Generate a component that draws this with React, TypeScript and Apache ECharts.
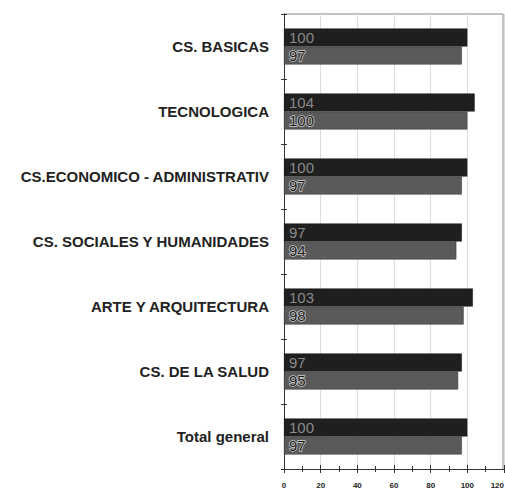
import React, { useEffect, useRef } from "react";
import * as echarts from "echarts";

const categories = [
  "CS. BASICAS",
  "TECNOLOGICA",
  "CS.ECONOMICO - ADMINISTRATIV",
  "CS. SOCIALES Y HUMANIDADES",
  "ARTE Y ARQUITECTURA",
  "CS. DE LA SALUD",
  "Total general",
];
const seriesDark = [100, 104, 100, 97, 103, 97, 100];
const seriesLight = [97, 100, 97, 94, 98, 95, 97];
const xTicks = [0, 20, 40, 60, 80, 100, 120];

const font = "Liberation Sans, Arial, sans-serif";

export default function App() {
  const ref = useRef<HTMLDivElement>(null);
  useEffect(() => {
    if (!ref.current) return;
    const chart = echarts.init(ref.current, null, { renderer: "svg" });
    const xBase = {
      type: "value",
      min: xTicks[0],
      max: xTicks[xTicks.length - 1],
      interval: 20,
    };
    chart.setOption({
      animation: false,
      backgroundColor: "#ffffff",
      grid: {
        left: 284,
        right: 1,
        top: 14,
        bottom: 21,
        containLabel: false,
        outerBoundsMode: "none",
      },
      xAxis: [
        {
          ...xBase,
          axisLine: { show: true, lineStyle: { color: "#333", width: 1 } },
          axisTick: { show: true, length: 4, inside: false, lineStyle: { color: "#333" } },
          minorTick: { show: true, splitNumber: 2, length: 3, lineStyle: { color: "#333" } },
          splitLine: { show: true, lineStyle: { color: "#dcdcdc", width: 1 } },
          axisLabel: {
            fontSize: 8,
            fontWeight: "bold",
            color: "#222",
            fontFamily: font,
            margin: 12,
            alignMaxLabel: "right",
          },
        },
        {
          ...xBase,
          position: "bottom",
          axisLine: { show: false },
          axisTick: { show: true, length: 4, inside: true, lineStyle: { color: "#333" } },
          minorTick: { show: true, splitNumber: 2, length: 3, lineStyle: { color: "#333" } },
          splitLine: { show: false },
          axisLabel: { show: false },
        },
      ],
      yAxis: [
        {
          type: "category",
          data: categories,
          inverse: true,
          axisLine: { show: true, lineStyle: { color: "#333", width: 1 } },
          axisTick: { show: true, length: 3, lineStyle: { color: "#333" } },
          axisLabel: {
            fontSize: 15,
            fontWeight: "bold",
            color: "#222",
            fontFamily: font,
            margin: 15,
          },
        },
        {
          type: "category",
          data: categories,
          inverse: true,
          position: "left",
          axisLine: { show: false },
          axisTick: { show: true, length: 3, inside: true, lineStyle: { color: "#333" } },
          axisLabel: { show: false },
        },
      ],
      graphic: [
        {
          type: "polyline",
          shape: { points: [[284, 14], [503, 14], [503, 469]] },
          style: { stroke: "#888", lineWidth: 1, fill: "none" },
          silent: true,
        },
      ],
      series: [
        {
          type: "bar",
          data: seriesDark,
          barWidth: 18,
          barGap: "0%",
          itemStyle: { color: "#1f1f1f", borderColor: "#111", borderWidth: 0.5 },
          label: {
            show: true,
            position: "insideLeft",
            distance: 5,
            fontSize: 15,
            color: "#8a8a8a",
            fontFamily: font,
          },
        },
        {
          type: "bar",
          data: seriesLight,
          barWidth: 18,
          barGap: "0%",
          itemStyle: { color: "#5a5a5a", borderColor: "#333", borderWidth: 0.5 },
          label: {
            show: true,
            position: "insideLeft",
            distance: 5,
            fontSize: 15,
            color: "#1a1a1a",
            textBorderColor: "#cfcfcf",
            textBorderWidth: 1.5,
            fontFamily: font,
          },
        },
      ],
    });
    return () => chart.dispose();
  }, []);
  return (
    <div
      ref={ref}
      style={{ position: "fixed", left: 0, top: 0, width: 505, height: 490 }}
    />
  );
}
